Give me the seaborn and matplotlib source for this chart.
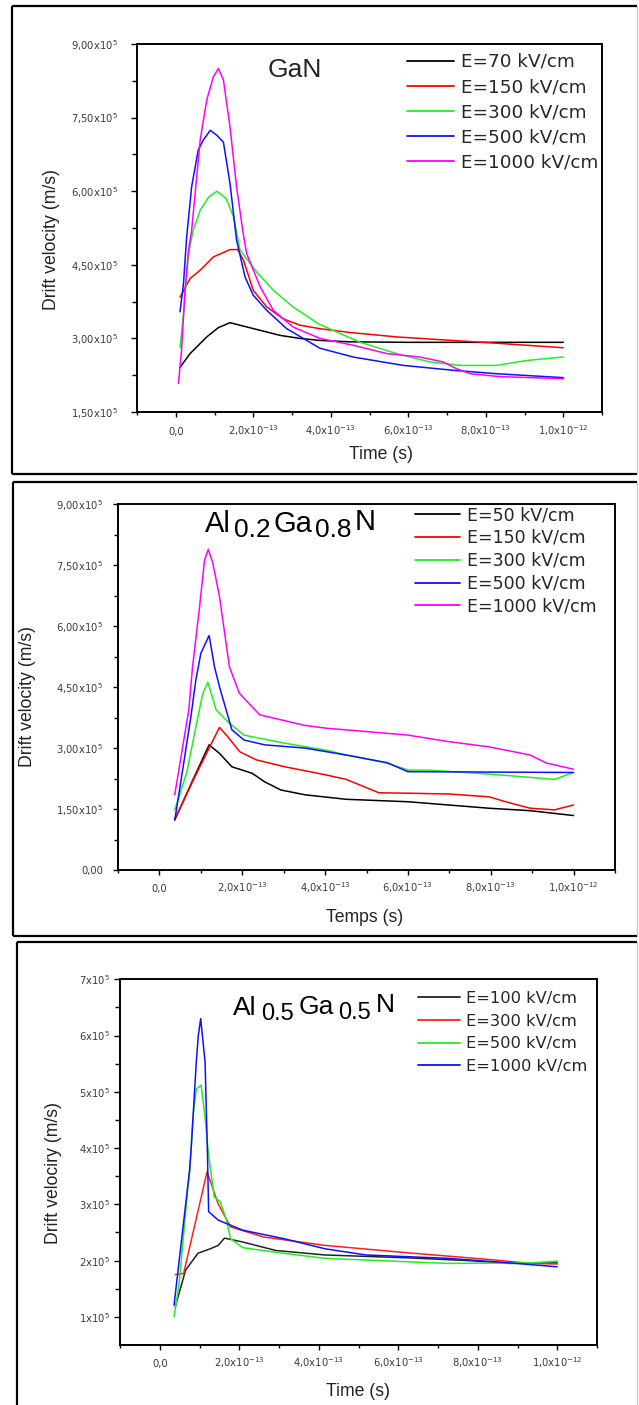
import matplotlib
matplotlib.use("Agg")
import matplotlib.pyplot as plt
from matplotlib.lines import Line2D
import pandas as pd
import seaborn as sns

# time in units of 1e-13 s, drift velocity in units of 1e5 m/s

# ---------------- GaN ----------------
gan_labels = ["E=70 kV/cm", "E=150 kV/cm", "E=300 kV/cm", "E=500 kV/cm", "E=1000 kV/cm"]
gan_colors = ["#000000", "#ff0000", "#22ee22", "#1010ff", "#ff00ff"]
gan_t_70 = [0.11, 0.37, 0.8, 1.1, 1.4, 2.0, 2.7, 3.2, 3.7, 4.5, 6.0, 8.0, 10.0]
gan_v_70 = [2.41, 2.69, 3.03, 3.22, 3.32, 3.20, 3.06, 3.00, 2.96, 2.93, 2.92, 2.92, 2.92]
gan_t_150 = [0.11, 0.37, 0.63, 0.97, 1.4, 1.6, 1.75, 2.0, 2.35, 2.77, 3.2, 3.7, 4.5, 5.7, 7.3, 8.5, 10.0]
gan_v_150 = [3.84, 4.22, 4.39, 4.66, 4.81, 4.81, 4.59, 3.98, 3.64, 3.40, 3.27, 3.20, 3.12, 3.03, 2.95, 2.89, 2.81]
gan_t_300 = [0.11, 0.2, 0.33, 0.45, 0.63, 0.85, 1.06, 1.3, 1.49, 1.66, 2.09, 2.52, 3.03, 3.68, 4.07,
             4.76, 5.7, 6.56, 7.34, 8.28, 9.06, 10.0]
gan_v_300 = [2.81, 3.5, 4.73, 5.2, 5.61, 5.88, 6.0, 5.85, 5.48, 4.8, 4.35, 3.98, 3.64, 3.3, 3.16,
             2.92, 2.69, 2.52, 2.45, 2.45, 2.55, 2.62]
gan_t_500 = [0.11, 0.2, 0.28, 0.41, 0.58, 0.71, 0.89, 1.06, 1.23, 1.4, 1.57, 1.79, 2.0, 2.35, 2.86,
             3.72, 4.58, 5.87, 7.16, 8.28, 10.0]
gan_v_500 = [3.54, 4.12, 5.05, 6.09, 6.84, 7.04, 7.24, 7.14, 7.0, 6.16, 5.0, 4.25, 3.88, 3.57, 3.2,
             2.8, 2.62, 2.45, 2.35, 2.28, 2.2]
gan_t_1000 = [0.07, 0.15, 0.24, 0.33, 0.41, 0.63, 0.8, 0.97, 1.1, 1.23, 1.4, 1.57, 1.74, 1.83, 2.18,
              2.52, 3.03, 3.72, 4.58, 5.45, 6.3, 6.9, 7.25, 7.6, 8.37, 10.0]
gan_v_1000 = [2.08, 2.76, 3.98, 4.8, 5.2, 7.04, 7.86, 8.33, 8.5, 8.27, 7.31, 6.09, 5.14, 4.73, 4.05,
              3.57, 3.23, 3.0, 2.86, 2.69, 2.62, 2.52, 2.38, 2.28, 2.22, 2.18]

# ---------------- Al0.2Ga0.8N ----------------
al2_labels = ["E=50 kV/cm", "E=150 kV/cm", "E=300 kV/cm", "E=500 kV/cm", "E=1000 kV/cm"]
al2_colors = ["#000000", "#ff0000", "#22ee22", "#1010ff", "#ff00ff"]
al2_t_50 = [0.37, 0.8, 1.2, 1.45, 1.75, 2.24, 2.54, 2.93, 3.52, 4.51, 6.0, 6.98, 7.96, 8.95, 10.0]
al2_v_50 = [1.23, 2.2, 3.08, 2.87, 2.54, 2.38, 2.17, 1.97, 1.85, 1.74, 1.68, 1.6, 1.52, 1.46, 1.34]
al2_t_150 = [0.37, 0.86, 1.45, 1.65, 1.94, 2.34, 3.03, 4.02, 4.51, 5.3, 6.0, 7.0, 7.96, 8.36, 8.95, 9.54, 10.0]
al2_v_150 = [1.25, 2.3, 3.51, 3.28, 2.91, 2.71, 2.54, 2.34, 2.23, 1.9, 1.89, 1.87, 1.8, 1.68, 1.52, 1.48, 1.6]
al2_t_300 = [0.37, 0.66, 0.93, 1.05, 1.17, 1.37, 1.65, 2.04, 3.03, 4.02, 4.51, 5.5, 6.0, 6.48, 7.96,
             8.95, 9.54, 10.0]
al2_v_300 = [1.48, 2.4, 3.77, 4.35, 4.62, 3.94, 3.65, 3.32, 3.12, 2.95, 2.83, 2.63, 2.46, 2.46, 2.36,
             2.28, 2.23, 2.4]
al2_t_500 = [0.37, 0.46, 0.76, 0.88, 1.0, 1.2, 1.33, 1.45, 1.75, 2.04, 2.54, 3.52, 4.51, 5.5, 6.0, 10.0]
al2_v_500 = [1.23, 1.8, 3.77, 4.68, 5.33, 5.77, 5.0, 4.51, 3.45, 3.2, 3.08, 3.0, 2.83, 2.64, 2.42, 2.4]
al2_t_1000 = [0.37, 0.71, 0.8, 0.97, 1.09, 1.18, 1.29, 1.45, 1.69, 1.93, 2.42, 3.0, 3.5, 4.02, 6.0,
              6.98, 7.96, 8.95, 9.35, 10.0]
al2_v_1000 = [1.85, 3.94, 5.0, 6.48, 7.63, 7.89, 7.55, 6.73, 5.0, 4.35, 3.82, 3.68, 3.56, 3.49, 3.32,
              3.16, 3.03, 2.83, 2.63, 2.48]

# ---------------- Al0.5Ga0.5N ----------------
al5_labels = ["E=100 kV/cm", "E=300 kV/cm", "E=500 kV/cm", "E=1000 kV/cm"]
al5_colors = ["#222222", "#ff2020", "#22ee22", "#1010ff"]
al5_t_100 = [0.39, 0.65, 0.96, 1.27, 1.47, 1.63, 2.09, 2.92, 4.16, 6.22, 7.77, 8.8, 10.0]
al5_v_100 = [1.18, 1.83, 2.13, 2.21, 2.27, 2.4, 2.33, 2.18, 2.1, 2.05, 2.0, 1.95, 1.96]
al5_t_300 = [0.39, 0.6, 0.91, 1.19, 1.47, 1.78, 2.61, 4.16, 6.22, 7.25, 8.28, 9.31, 10.0]
al5_v_300 = [1.75, 1.77, 2.72, 3.58, 3.01, 2.6, 2.42, 2.27, 2.14, 2.08, 2.02, 1.95, 1.94]
al5_t_500 = [0.36, 0.49, 0.7, 0.76, 0.84, 0.92, 1.04, 1.14, 1.22, 1.37, 1.52, 1.68, 1.78, 2.09, 3.12,
             4.16, 6.22, 7.25, 9.31, 10.0]
al5_v_500 = [1.0, 1.6, 3.25, 3.64, 4.58, 5.05, 5.12, 4.55, 3.93, 3.13, 3.05, 2.72, 2.39, 2.23, 2.13,
             2.04, 1.98, 1.95, 1.96, 1.99]
al5_t_1000 = [0.36, 0.75, 0.8, 0.92, 0.97, 1.03, 1.14, 1.2, 1.23, 1.47, 2.09, 3.12, 4.16, 5.19, 7.25,
              8.8, 10.0]
al5_v_1000 = [1.21, 3.6, 4.1, 5.54, 6.0, 6.3, 5.53, 3.9, 2.87, 2.72, 2.54, 2.39, 2.21, 2.1, 2.04,
              1.96, 1.89]

# ---------------- ticks ----------------
time_ticks = [0, 2, 4, 6, 8, 10]
time_minor = [-1, 1, 3, 5, 7, 9, 11]
time_ticklabels = ["0,0", "2,0x10$^{-13}$", "4,0x10$^{-13}$", "6,0x10$^{-13}$",
                   "8,0x10$^{-13}$", "1,0x10$^{-12}$"]
gan_yticks = [1.5, 3.0, 4.5, 6.0, 7.5, 9.0]
gan_yminor = [2.25, 3.75, 5.25, 6.75, 8.25]
gan_yticklabels = ["1,50x10$^5$", "3,00x10$^5$", "4,50x10$^5$", "6,00x10$^5$", "7,50x10$^5$", "9,00x10$^5$"]
al2_yticks = [0.0, 1.5, 3.0, 4.5, 6.0, 7.5, 9.0]
al2_yminor = [0.75, 2.25, 3.75, 5.25, 6.75, 8.25]
al2_yticklabels = ["0,00", "1,50x10$^5$", "3,00x10$^5$", "4,50x10$^5$", "6,00x10$^5$",
                   "7,50x10$^5$", "9,00x10$^5$"]
al5_yticks = [1, 2, 3, 4, 5, 6, 7]
al5_yminor = [1.5, 2.5, 3.5, 4.5, 5.5, 6.5]
al5_yticklabels = ["1x10$^5$", "2x10$^5$", "3x10$^5$", "4x10$^5$", "5x10$^5$", "6x10$^5$", "7x10$^5$"]

W, H = 639, 1405

sns.set_style("ticks")
plt.rcParams["font.family"] = ["Liberation Sans", "DejaVu Sans"]
plt.rcParams["mathtext.default"] = "regular"

fig = plt.figure(figsize=(W / 100, H / 100), dpi=100)
fig.patch.set_facecolor("white")


def fx(x):
    return x / W


def fy(y):
    return 1 - y / H


def make_axes(x0, y0, x1, y1):
    return fig.add_axes([fx(x0), fy(y1), (x1 - x0) / W, (y1 - y0) / H])


def draw_curves(ax, labels, colors, times, speeds):
    frames = [pd.DataFrame({"time": t, "velocity": v, "field": lab})
              for lab, t, v in zip(labels, times, speeds)]
    df = pd.concat(frames, ignore_index=True)
    sns.lineplot(data=df, x="time", y="velocity", hue="field", hue_order=labels,
                 palette=colors, sort=False, estimator=None, legend=False,
                 linewidth=1.1, ax=ax)


def style_axes(ax, ylim, yticks, yminor, yticklabels, ypad, xpad, ytick_len):
    ax.set_xlim(-1, 11)
    ax.set_ylim(*ylim)
    ax.set_xticks(time_ticks)
    ax.set_xticks(time_minor, minor=True)
    ax.set_xticklabels(time_ticklabels)
    ax.set_yticks(yticks)
    ax.set_yticks(yminor, minor=True)
    ax.set_yticklabels(yticklabels)
    for s in ax.spines.values():
        s.set_linewidth(1.4)
        s.set_color("black")
        s.set_visible(True)
    ax.tick_params(axis="x", which="major", direction="out", length=3.6, width=1.0,
                   pad=xpad, labelsize=7.2, labelcolor="#3c3c3c", color="black")
    ax.tick_params(axis="x", which="minor", direction="out", length=2.5, width=1.0, color="black")
    ax.tick_params(axis="y", which="major", direction="out", length=ytick_len, width=1.0,
                   pad=ypad, labelsize=7.2, labelcolor="#3c3c3c", color="black")
    ax.tick_params(axis="y", which="minor", direction="out", length=ytick_len * 0.8, width=1.0,
                   color="black")
    for lab in ax.get_xticklabels() + ax.get_yticklabels():
        lab.set_family("DejaVu Sans")
    for lab in ax.get_xticklabels():
        lab.set_va("baseline")
    ax.set_facecolor("white")
    ax.grid(False)


def set_labels(ax, xlabel, xpos, ylabel, ypos):
    ax.set_xlabel(xlabel, fontsize=12.7, color="#222222")
    ax.xaxis.set_label_coords(fx(xpos[0]), fy(xpos[1]), transform=fig.transFigure)
    ax.xaxis.label.set(ha="center", va="center")
    ax.set_ylabel(ylabel, fontsize=12.7, color="#222222")
    ax.yaxis.set_label_coords(fx(ypos[0]), fy(ypos[1]), transform=fig.transFigure)
    ax.yaxis.label.set(ha="center", va="center", rotation_mode="anchor")


def add_legend(ax, labels, colors, x0, top, size, hlen, tpad, lspace):
    handles = [Line2D([], [], color=c, linewidth=1.3) for c in colors]
    ax.legend(handles, labels, loc="upper left", bbox_to_anchor=(fx(x0), fy(top)),
              bbox_transform=fig.transFigure, frameon=False, borderpad=0, borderaxespad=0,
              handlelength=hlen, handletextpad=tpad, labelspacing=lspace,
              prop={"family": "DejaVu Sans", "size": size})


def formula(x, pieces, gap):
    rend = fig.canvas.get_renderer()
    for txt, size, base in pieces:
        t = fig.text(fx(x), fy(base), txt, fontsize=size, ha="left", va="baseline",
                     family="Liberation Sans", color="black")
        x = t.get_window_extent(renderer=rend).x1 + gap


def frame(x0, y0, x1, y1, bottom=True):
    kw = dict(transform=fig.transFigure, color="black", linewidth=1.6, solid_capstyle="butt")
    fig.add_artist(Line2D([fx(x0), fx(x0)], [fy(y0), fy(y1)], **kw))
    fig.add_artist(Line2D([fx(x0), fx(x1)], [fy(y0), fy(y0)], **kw))
    if bottom:
        fig.add_artist(Line2D([fx(x0), fx(x1)], [fy(y1), fy(y1)], **kw))
    fig.add_artist(Line2D([fx(x1), fx(x1)], [fy(y0), fy(y1)], transform=fig.transFigure,
                          color="#c8c8c8", linewidth=0.9))


# ---------------- panel 1: GaN ----------------
ax1 = make_axes(137, 44, 602, 412)
draw_curves(ax1, gan_labels, gan_colors,
            [gan_t_70, gan_t_150, gan_t_300, gan_t_500, gan_t_1000],
            [gan_v_70, gan_v_150, gan_v_300, gan_v_500, gan_v_1000])
style_axes(ax1, (1.5, 9.0), gan_yticks, gan_yminor, gan_yticklabels, ypad=9.4, xpad=13, ytick_len=4.3)
set_labels(ax1, "Time (s)", (381, 455), "Drift velocity (m/s)", (52, 239))
add_legend(ax1, gan_labels, gan_colors, 407, 53, 13.2, 2.57, 0.38, 0.39)
fig.text(fx(268), fy(77), "GaN", fontsize=19, family="Liberation Sans", ha="left", va="baseline")

# ---------------- panel 2: Al0.2Ga0.8N ----------------
ax2 = make_axes(118, 504.3, 615, 870)
draw_curves(ax2, al2_labels, al2_colors,
            [al2_t_50, al2_t_150, al2_t_300, al2_t_500, al2_t_1000],
            [al2_v_50, al2_v_150, al2_v_300, al2_v_500, al2_v_1000])
style_axes(ax2, (0.0, 9.0), al2_yticks, al2_yminor, al2_yticklabels, ypad=7.2, xpad=11.9, ytick_len=3.6)
set_labels(ax2, "Temps (s)", (365, 917), "Drift velocity (m/s)", (27.5, 697))
add_legend(ax2, al2_labels, al2_colors, 415, 506, 12.5, 2.6, 0.4, 0.28)
formula(205, [("Al", 21, 531.7), ("0.2", 19, 537), ("Ga", 21, 531.7), ("0.8", 19, 537), ("N", 21, 530)], 3)

# ---------------- panel 3: Al0.5Ga0.5N ----------------
ax3 = make_axes(120, 979.3, 597, 1345)
draw_curves(ax3, al5_labels, al5_colors,
            [al5_t_100, al5_t_300, al5_t_500, al5_t_1000],
            [al5_v_100, al5_v_300, al5_v_500, al5_v_1000])
style_axes(ax3, (0.5, 7.0), al5_yticks, al5_yminor, al5_yticklabels, ypad=2.9, xpad=12.6, ytick_len=4.3)
set_labels(ax3, "Time (s)", (358, 1391.7), "Drift velociry (m/s)", (53, 1173))
add_legend(ax3, al5_labels, al5_colors, 418, 991, 11.7, 2.58, 0.4, 0.47)
formula(233, [("Al", 19, 1015), ("0.5", 17, 1020), ("Ga", 19, 1014), ("0.5", 17, 1019.3),
              ("N", 19, 1012)], 4.5)

# ---------------- panel frames ----------------
frame(12, 5.5, 636.5, 474)
frame(12.5, 481.5, 637, 935.5)
frame(16.5, 942, 637, 1405, bottom=False)

fig.savefig("out.png", dpi=100, facecolor="white")
